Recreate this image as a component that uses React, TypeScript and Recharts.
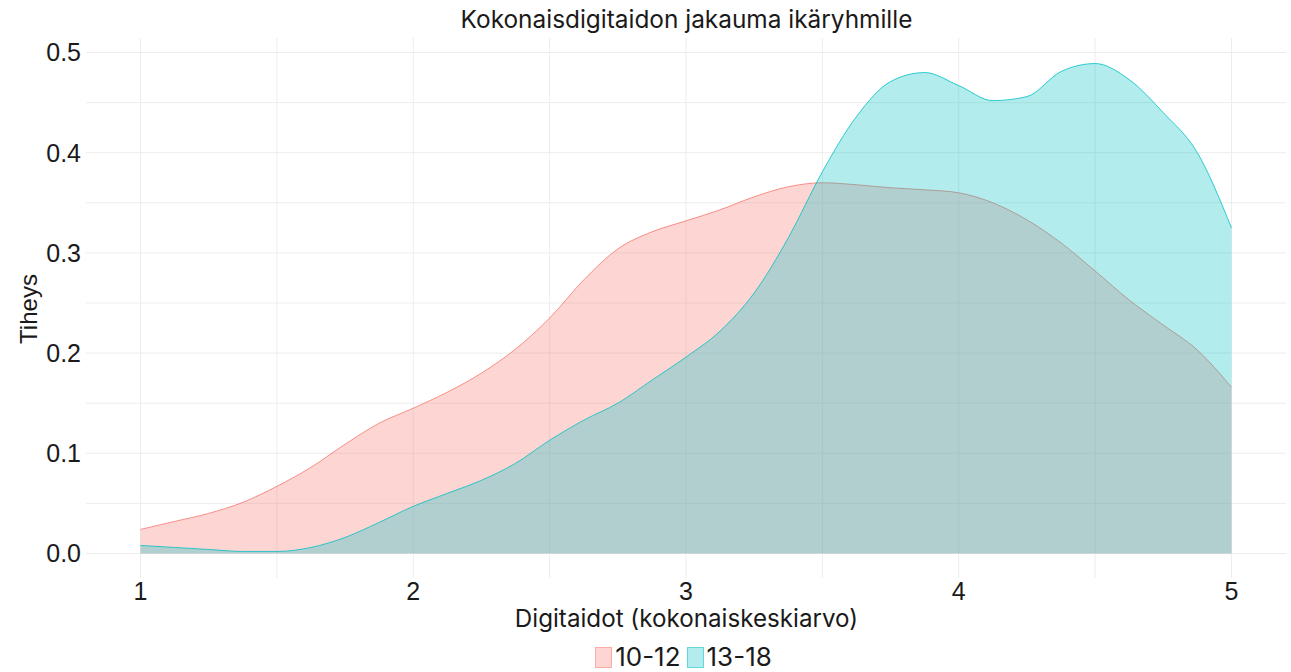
import { ComposedChart, Area, XAxis, YAxis, CartesianGrid } from "recharts";

// tiheyskäyrien arvot luettu kuvasta (askel 0.125)
const pisteet = [
  1, 1.125, 1.25, 1.375, 1.5, 1.625, 1.75, 1.875, 2, 2.125, 2.25, 2.375, 2.5, 2.625, 2.75, 2.875, 3,
  3.125, 3.25, 3.375, 3.5, 3.625, 3.75, 3.875, 4, 4.125, 4.25, 4.375, 4.5, 4.625, 4.75, 4.875, 5,
];
const ika10_12 = [
  0.024, 0.032, 0.04, 0.051, 0.067, 0.086, 0.109, 0.13, 0.145, 0.161, 0.18, 0.204, 0.235, 0.273, 0.304,
  0.321, 0.332, 0.343, 0.356, 0.366, 0.37, 0.368, 0.365, 0.363, 0.36, 0.35, 0.333, 0.31, 0.282, 0.253,
  0.228, 0.203, 0.166,
];
const ika13_18 = [
  0.008, 0.006, 0.004, 0.002, 0.002, 0.006, 0.016, 0.031, 0.047, 0.06, 0.073, 0.09, 0.113, 0.133, 0.15,
  0.173, 0.196, 0.222, 0.26, 0.315, 0.381, 0.436, 0.471, 0.48, 0.467, 0.452, 0.456, 0.481, 0.489, 0.473,
  0.44, 0.4, 0.325,
];
const xTicks = [1, 2, 3, 4, 5];
const yTicks = [0, 0.1, 0.2, 0.3, 0.4, 0.5];
const gridX = [1, 1.5, 2, 2.5, 3, 3.5, 4, 4.5, 5];
const gridY = [0, 0.05, 0.1, 0.15, 0.2, 0.25, 0.3, 0.35, 0.4, 0.45, 0.5];
const ryhmat = [
  { key: "a", nimi: "10-12", vari: "#F8766D" },
  { key: "b", nimi: "13-18", vari: "#00BFC4" },
];

const data = pisteet.map((x, i) => ({ x, a: ika10_12[i], b: ika13_18[i] }));

const arial = "'Liberation Sans', Arial, sans-serif";
const tickFont = { fontFamily: arial, fontSize: 25, fill: "#1a1a1a" };
const otsikkoFont = "Inter, 'Open Sans', sans-serif";

const Selite = () => (
  <div
    style={{
      position: "absolute",
      top: 644,
      left: 0,
      width: 1373,
      display: "flex",
      justifyContent: "center",
      alignItems: "center",
      fontFamily: otsikkoFont,
      fontSize: 26,
      lineHeight: "26px",
      color: "#1a1a1a",
    }}
  >
    {ryhmat.map((r) => (
      <span key={r.key} style={{ display: "flex", alignItems: "center", marginRight: 6 }}>
        <span
          style={{
            display: "inline-block",
            width: 15,
            height: 19,
            background: r.vari + "4d",
            border: "1px solid " + r.vari + "70",
            marginRight: 3,
          }}
        />
        {r.nimi}
      </span>
    ))}
  </div>
);

export default function App() {
  return (
    <div style={{ position: "absolute", left: 0, top: 0, width: 1291, height: 672, background: "#fff" }}>
      <div
        style={{
          position: "absolute",
          top: 4,
          left: 0,
          width: 1373,
          textAlign: "center",
          fontFamily: otsikkoFont,
          fontSize: 24.4,
          color: "#1a1a1a",
        }}
      >
        Kokonaisdigitaidon jakauma ikäryhmille
      </div>
      <div
        style={{
          position: "absolute",
          top: 604,
          left: 0,
          width: 1373,
          textAlign: "center",
          fontFamily: otsikkoFont,
          fontSize: 24.2,
          color: "#1a1a1a",
        }}
      >
        Digitaidot (kokonaiskeskiarvo)
      </div>
      <div
        style={{
          position: "absolute",
          left: 29,
          top: 309,
          transform: "translate(-50%, -50%) rotate(-90deg)",
          fontFamily: arial,
          fontSize: 24,
          color: "#1a1a1a",
          whiteSpace: "nowrap",
        }}
      >
        Tiheys
      </div>
      <ComposedChart width={1291} height={672} data={data} margin={{ top: 38, right: 5, bottom: 64, left: 0 }}>
        <CartesianGrid stroke="#ededed" strokeWidth={1} horizontalValues={gridY} verticalValues={gridX} />
        <XAxis
          dataKey="x"
          type="number"
          domain={[0.8, 5.2]}
          ticks={xTicks}
          allowDataOverflow
          axisLine={false}
          tickLine={false}
          tickSize={0}
          tickMargin={4}
          height={30}
          tick={tickFont}
        />
        <YAxis
          type="number"
          domain={[-0.0245, 0.5145]}
          ticks={yTicks}
          allowDataOverflow
          axisLine={false}
          tickLine={false}
          tickSize={0}
          tickMargin={5}
          width={86}
          tick={tickFont}
          tickFormatter={(v: number) => v.toFixed(1)}
        />
        {ryhmat.map((r) => (
          <Area
            key={r.key}
            type="monotone"
            dataKey={r.key}
            name={r.nimi}
            baseValue={0}
            stroke={r.vari}
            strokeWidth={0.8}
            fill={r.vari}
            fillOpacity={0.3}
            isAnimationActive={false}
          />
        ))}
      </ComposedChart>
      <Selite />
    </div>
  );
}
